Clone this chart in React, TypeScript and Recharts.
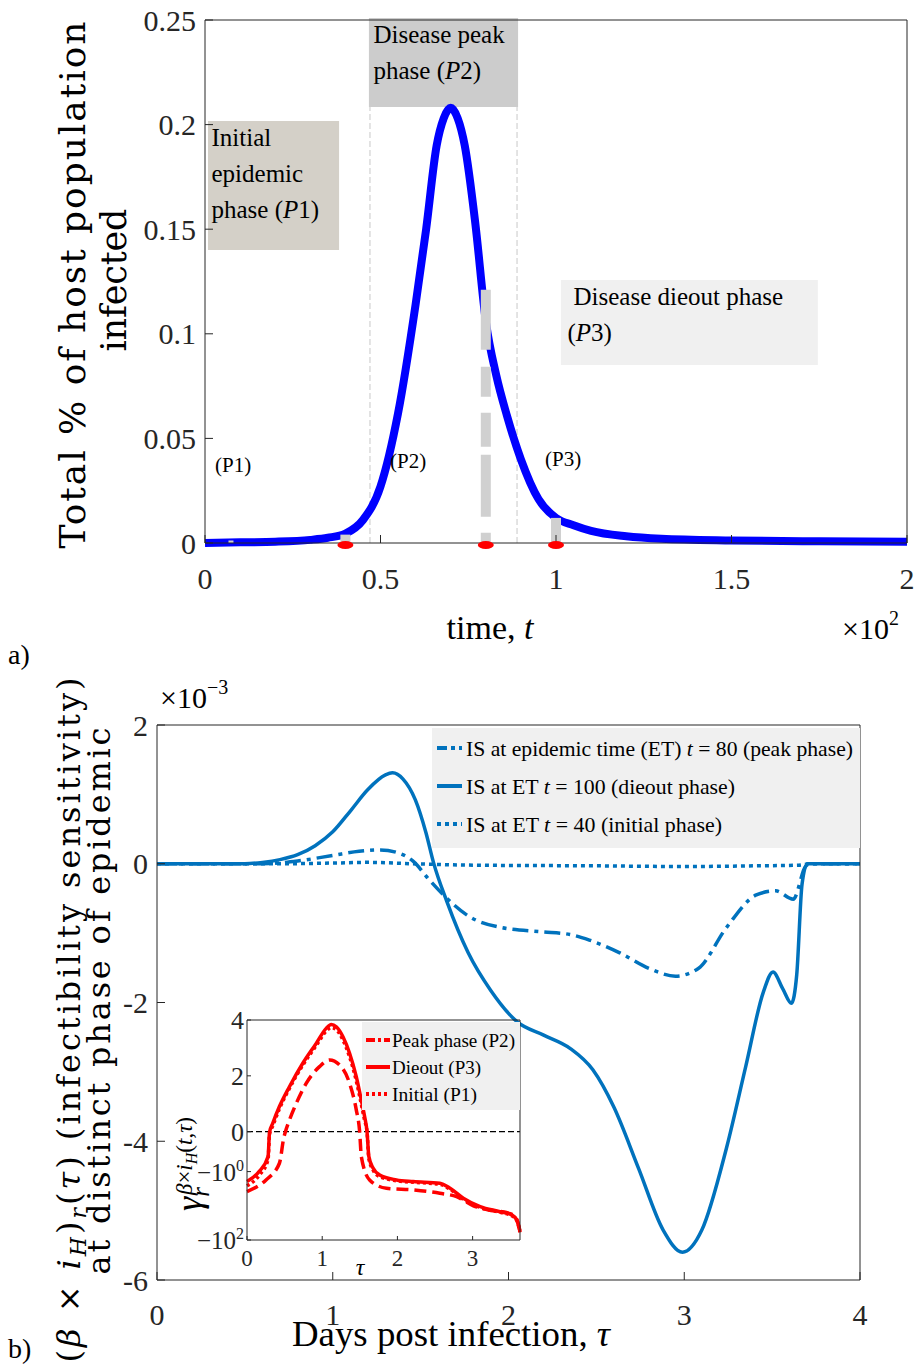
import React from 'react';
import { LineChart, Line, XAxis, YAxis, ReferenceArea, ReferenceLine, ReferenceDot } from 'recharts';

const SERIF = '"Liberation Serif", "Times New Roman", serif';
const WIDE = '"DejaVu Serif", serif';
const INK = '#262626';
const BLUE = '#0072bd';
const RED = '#ff0000';

// a) total share of host population infected vs epidemic time (x10^2)
const epiTime = [0, 0.1, 0.2, 0.3, 0.35, 0.4, 0.45, 0.5, 0.55, 0.6, 0.63, 0.66, 0.68, 0.7, 0.72, 0.74, 0.77, 0.8, 0.83, 0.86, 0.9, 0.95, 1.0, 1.05, 1.1, 1.2, 1.3, 1.5, 1.75, 2.0];
const epiInfected = [0, 0.0003, 0.0006, 0.0015, 0.0025, 0.0045, 0.011, 0.027, 0.062, 0.114, 0.15, 0.19, 0.203, 0.208, 0.203, 0.19, 0.153, 0.106, 0.08, 0.061, 0.04, 0.021, 0.012, 0.0085, 0.0058, 0.0032, 0.002, 0.0012, 0.0008, 0.0006];
const phaseTimes = [0.4, 0.8, 1.0];
const phaseBarTops = [0.004, 0.121, 0.012];
const phaseEdges = [0.47, 0.889];
const epiTicksX = [0, 0.5, 1, 1.5, 2];
const epiTicksY = [0, 0.05, 0.1, 0.15, 0.2, 0.25];

// b) infectibility sensitivity (x10^-3) vs days post infection
const tauPeak = [0, 0.6, 0.8, 1.0, 1.15, 1.27, 1.38, 1.46, 1.545, 1.63, 1.77, 1.96, 2.185, 2.35, 2.46, 2.63, 2.8, 2.95, 3.08, 3.24, 3.41, 3.52, 3.62, 3.69, 3.72, 4];
const isPeak = [0, 0, 0.04, 0.12, 0.18, 0.2, 0.15, 0.03, -0.22, -0.45, -0.75, -0.92, -0.98, -1.02, -1.1, -1.28, -1.51, -1.62, -1.51, -0.92, -0.45, -0.39, -0.51, -0.04, 0, 0];
const tauDieout = [0, 0.5, 0.6, 0.7, 0.8, 0.9, 1.0, 1.1, 1.2, 1.3, 1.34, 1.4, 1.47, 1.53, 1.573, 1.65, 1.77, 1.9, 2.05, 2.2, 2.35, 2.48, 2.6, 2.74, 2.88, 2.99, 3.1, 3.24, 3.35, 3.45, 3.505, 3.56, 3.61, 3.64, 3.67, 3.7, 4];
const isDieout = [0, 0, 0.02, 0.06, 0.13, 0.26, 0.46, 0.76, 1.07, 1.28, 1.31, 1.22, 0.92, 0.45, 0.02, -0.55, -1.28, -1.83, -2.28, -2.47, -2.66, -2.97, -3.51, -4.39, -5.28, -5.6, -5.28, -4.1, -2.92, -1.85, -1.56, -1.8, -2.01, -1.6, -0.3, 0, 0];
const tauInitial = [0, 0.7, 1.0, 1.2, 1.45, 1.8, 2.5, 3.0, 3.4, 3.65, 3.72, 4];
const isInitial = [0, 0, 0.01, 0.02, 0, -0.02, -0.03, -0.04, -0.03, -0.02, 0, 0];
const tauTicks = [0, 1, 2, 3, 4];
const isTicks = [-6, -4, -2, 0, 2];

// inset: gamma_r (symlog axis)
const inTau = [0, 0.16, 0.28, 0.3, 0.342, 0.431, 0.564, 0.742, 0.92, 1.053, 1.12, 1.187, 1.276, 1.364, 1.453, 1.52, 1.564, 1.596, 1.62, 1.676, 1.764, 1.987, 2.21, 2.564, 2.7, 2.876, 3.1, 3.364, 3.52, 3.587, 3.63];
const gDieout = [-1.96, -1.0, -0.36, -0.07, 0.3, 0.9, 1.61, 2.45, 3.16, 3.7, 3.84, 3.76, 3.4, 2.81, 1.97, 1.13, 0.54, 0, -0.36, -0.79, -1.25, -1.75, -1.96, -2.19, -3.07, -6.0, -10.6, -14.9, -18.5, -25.8, -56.8];
const gInitial = [-2.6, -1.3, -0.45, -0.08, 0.2, 0.82, 1.55, 2.38, 3.08, 3.6, 3.73, 3.66, 3.28, 2.68, 1.82, 0.98, 0.4, -0.05, -0.42, -0.9, -1.4, -1.85, -2.05, -2.35, -3.3, -6.4, -11.2, -15.5, -19.5, -27, -60];
const inTauPeak = [0, 0.253, 0.431, 0.49, 0.511, 0.565, 0.653, 0.787, 0.964, 1.098, 1.23, 1.364, 1.453, 1.498, 1.52, 1.63, 1.853, 2.21, 2.564, 2.787, 3.01, 3.2, 3.5, 3.587, 3.63];
const gPeak = [-3.85, -1.75, -0.57, -0.1, 0, 0.42, 1.0, 1.73, 2.33, 2.57, 2.39, 1.73, 0.78, 0, -0.363, -1.75, -3.07, -3.44, -4.3, -5.4, -10, -13, -17, -25, -56];
const inTicksX = [0, 1, 2, 3];

// positive side linear, negative side log10 (symlog-like)
const LIN0 = 1.43;
const DEC = 1.225;
const symlog = (v: number) => (v >= 0 ? v : -Math.max(0, LIN0 + DEC * Math.log10(-v)));
const inTicksY = [symlog(-100), symlog(-1), 0, 2, 4];

const epiData = epiTime.map((t, i) => ({ t, infected: epiInfected[i] }));
const zip = (xs: number[], ys: number[]) => xs.map((tau, i) => ({ tau, v: ys[i] }));
const zipLog = (xs: number[], ys: number[]) => xs.map((tau, i) => ({ tau, v: symlog(ys[i]) }));

const tickStyle = { fontSize: 30, fill: INK, fontFamily: SERIF };
const axisLine = { stroke: INK, strokeWidth: 1 };

const InsetYTick = (props: any) => {
  const { x, y, payload } = props;
  const v = payload.value;
  if (v >= 0) {
    return (
      <text x={x} y={y} dy={9} textAnchor="end" fontSize={26} fill={INK} fontFamily={SERIF}>
        {String(v)}
      </text>
    );
  }
  const exp = Math.round((-v - LIN0) / DEC);
  return (
    <text x={x} y={y} dy={9} textAnchor="end" fontSize={25} fill={INK} fontFamily={SERIF}>
      {'\u221210'}
      <tspan dy={-10} fontSize={16}>{exp}</tspan>
    </text>
  );
};

const it = (s: string) => <tspan fontStyle="italic">{s}</tspan>;

export default function App() {
  return (
    <div style={{ position: 'absolute', left: 0, top: 0, width: 917, height: 1365, background: '#fff' }}>
      {/* a) */}
      <div style={{ position: 'absolute', left: 0, top: 0 }}>
        <LineChart width={917} height={600} data={epiData} margin={{ top: 19, right: 9, left: 125, bottom: 12 }}>
          <XAxis dataKey="t" type="number" domain={[0, 2]} ticks={epiTicksX} tickSize={-8} tickMargin={33}
            height={45} axisLine={axisLine} tickLine={axisLine} tick={tickStyle} />
          <XAxis xAxisId="top" orientation="top" type="number" domain={[0, 2]} ticks={[0.5, 1, 1.5]} tickSize={-8}
            height={1} axisLine={axisLine} tickLine={axisLine} tick={false} />
          <YAxis type="number" domain={[0, 0.25]} ticks={epiTicksY} tickSize={-8} tickMargin={17} width={80}
            axisLine={axisLine} tickLine={axisLine} tick={tickStyle} />
          <YAxis yAxisId="right" orientation="right" type="number" domain={[0, 0.25]} ticks={[0.05, 0.1, 0.15, 0.2]}
            tickSize={-8} width={1} axisLine={axisLine} tickLine={axisLine} tick={false} />
          <ReferenceArea x1={0.0085} x2={0.382} y1={0.14} y2={0.2017} fill="#d4d0c8" fillOpacity={1} ifOverflow="visible" />
          <ReferenceArea x1={0.467} x2={0.892} y1={0.2084} y2={0.251} fill="#cccccc" fillOpacity={1} ifOverflow="visible" />
          <ReferenceArea x1={1.014} x2={1.746} y1={0.0851} y2={0.1257} fill="#f0f0f0" fillOpacity={1} ifOverflow="visible" />
          {phaseEdges.map((x) => (
            <ReferenceLine key={x} segment={[{ x, y: 0 }, { x, y: 0.2084 }]} stroke="#c8c8c8" strokeWidth={1}
              strokeDasharray="6 3" ifOverflow="visible" />
          ))}
          <Line dataKey="infected" type="monotone" stroke="#0000ff" strokeWidth={8} dot={false} isAnimationActive={false} />
          <ReferenceLine segment={[{ x: 0.074, y: 0 }, { x: 0.074, y: 0.0012 }]} stroke="#d0d0d0" strokeWidth={5} ifOverflow="visible" />
          {phaseTimes.map((x, i) => (
            <ReferenceLine key={x} segment={[{ x, y: phaseBarTops[i] }, { x, y: 0 }]} stroke="#d0d0d0" strokeWidth={10}
              strokeDasharray={i === 1 ? '60 17 30 16 34 8 62 16' : undefined} ifOverflow="visible" />
          ))}
          {phaseTimes.map((x) => (
            <ReferenceDot key={x} x={x} y={0} r={8} ifOverflow="visible"
              shape={(p: any) => <ellipse cx={p.cx} cy={p.cy + 2} rx={8} ry={4} fill={RED} />} />
          ))}
        </LineChart>
      </div>

      {/* b) */}
      <div style={{ position: 'absolute', left: 0, top: 680 }}>
        <LineChart width={917} height={680} margin={{ top: 44, right: 56, left: 97, bottom: 30 }}>
          <XAxis dataKey="tau" type="number" domain={[0, 4]} ticks={tauTicks} tickSize={-8} tickMargin={32}
            height={50} axisLine={axisLine} tickLine={axisLine} tick={tickStyle} />
          <XAxis xAxisId="top" orientation="top" type="number" domain={[0, 4]} ticks={[1, 2, 3]} tickSize={-8}
            height={1} axisLine={axisLine} tickLine={axisLine} tick={false} />
          <YAxis type="number" domain={[-6, 2]} ticks={isTicks} tickSize={-8} tickMargin={17} width={60}
            axisLine={axisLine} tickLine={axisLine} tick={tickStyle} />
          <YAxis yAxisId="right" orientation="right" type="number" domain={[-6, 2]} ticks={[-4, -2, 0]} tickSize={-8}
            width={1} axisLine={axisLine} tickLine={axisLine} tick={false} />
          <Line data={zip(tauInitial, isInitial)} dataKey="v" type="monotone" stroke={BLUE} strokeWidth={3.5}
            strokeDasharray="4 4" dot={false} isAnimationActive={false} />
          <Line data={zip(tauPeak, isPeak)} dataKey="v" type="monotone" stroke={BLUE} strokeWidth={3.5}
            strokeDasharray="16 6 4 6" dot={false} isAnimationActive={false} />
          <Line data={zip(tauDieout, isDieout)} dataKey="v" type="monotone" stroke={BLUE} strokeWidth={3.5}
            dot={false} isAnimationActive={false} />
        </LineChart>
      </div>

      {/* inset */}
      <div style={{ position: 'absolute', left: 180, top: 1000 }}>
        <LineChart width={350} height={280} margin={{ top: 19, right: 9, left: 7, bottom: 10 }}>
          <XAxis dataKey="tau" type="number" domain={[0, 3.63]} ticks={inTicksX} tickSize={-4} tickMargin={14}
            height={30} axisLine={axisLine} tickLine={axisLine} tick={{ ...tickStyle, fontSize: 23 }} />
          <XAxis xAxisId="top" orientation="top" type="number" domain={[0, 3.63]} ticks={inTicksX} tickSize={-3}
            height={1} axisLine={axisLine} tickLine={axisLine} tick={false} />
          <YAxis type="number" domain={[symlog(-100), 4]} ticks={inTicksY} tickSize={-4} tickMargin={7} width={60}
            axisLine={axisLine} tickLine={axisLine} tick={<InsetYTick />} />
          <YAxis yAxisId="right" orientation="right" type="number" domain={[symlog(-100), 4]} ticks={inTicksY}
            tickSize={-3} width={1} axisLine={axisLine} tickLine={axisLine} tick={false} />
          <ReferenceLine y={0} stroke="#000" strokeWidth={1.2} strokeDasharray="6 3" />
          <Line data={zipLog(inTau, gInitial)} dataKey="v" type="monotone" stroke={RED} strokeWidth={3.5}
            strokeDasharray="3 3" dot={false} isAnimationActive={false} />
          <Line data={zipLog(inTauPeak, gPeak)} dataKey="v" type="monotone" stroke={RED} strokeWidth={3.5}
            strokeDasharray="12 6" dot={false} isAnimationActive={false} />
          <Line data={zipLog(inTau, gDieout)} dataKey="v" type="monotone" stroke={RED} strokeWidth={3.5}
            dot={false} isAnimationActive={false} />
        </LineChart>
      </div>

      {/* labels, legends, annotations */}
      <svg width={917} height={1365} style={{ position: 'absolute', left: 0, top: 0, pointerEvents: 'none' }}
        fontFamily={SERIF} fill="#000">
        {/* a) box texts */}
        <text x={211.5} y={146} fontSize={25}>Initial</text>
        <text x={211.5} y={182} fontSize={25}>epidemic</text>
        <text x={211.5} y={218} fontSize={25}>phase ({it('P')}1)</text>
        <text x={373.5} y={43} fontSize={25}>Disease peak</text>
        <text x={373.5} y={79} fontSize={25}>phase ({it('P')}2)</text>
        <text x={573.5} y={305} fontSize={25}>Disease dieout phase</text>
        <text x={567.5} y={341} fontSize={25}>({it('P')}3)</text>
        <text x={215} y={472} fontSize={21}>(P1)</text>
        <text x={390} y={468} fontSize={21}>(P2)</text>
        <text x={545} y={466} fontSize={21}>(P3)</text>

        {/* a) axis labels */}
        <text transform="translate(85,285) rotate(-90)" textAnchor="middle" fontSize={36} fontFamily={WIDE}
          textLength={527} lengthAdjust="spacing">Total % of host population</text>
        <text transform="translate(126,280) rotate(-90)" textAnchor="middle" fontSize={35} fontFamily={WIDE}
          textLength={143} lengthAdjust="spacing">infected</text>
        <text x={490} y={639} textAnchor="middle" fontSize={34}>time, {it('t')}</text>
        <text x={842} y={639} fontSize={30}>×10<tspan dy={-14} fontSize={20}>2</tspan></text>
        <text x={8} y={664} fontSize={28}>a)</text>

        {/* b) axis labels */}
        <text x={160} y={708} fontSize={30}>×10<tspan dy={-14} fontSize={20}>−3</tspan></text>
        <text transform="translate(80,1020) rotate(-90)" textAnchor="middle" fontSize={32} fontFamily={WIDE}
          textLength={685} lengthAdjust="spacing">
          ({it('β')} × {it('i')}<tspan fontStyle="italic" fontSize={22} dy={6}>H</tspan><tspan dy={-6}>)</tspan>
          <tspan fontStyle="italic" fontSize={22} dy={6}>r</tspan><tspan dy={-6}>(</tspan>{it('τ')}) (infectibility sensitivity)
        </text>
        <text transform="translate(110,1001) rotate(-90)" textAnchor="middle" fontSize={32} fontFamily={WIDE}
          textLength={547} lengthAdjust="spacing">at distinct phase of epidemic</text>
        <text x={451} y={1346} textAnchor="middle" fontSize={36} textLength={318} lengthAdjust="spacingAndGlyphs">
          Days post infection, {it('τ')}
        </text>
        <text x={8} y={1358} fontSize={28}>b)</text>

        {/* b) legend */}
        <rect x={432} y={728} width={428} height={120} fill="#f0f0f0" />
        <line x1={437} x2={462} y1={748} y2={748} stroke={BLUE} strokeWidth={4} strokeDasharray="10 4 4 4" />
        <line x1={437} x2={462} y1={786} y2={786} stroke={BLUE} strokeWidth={4} />
        <line x1={437} x2={462} y1={824} y2={824} stroke={BLUE} strokeWidth={4} strokeDasharray="4 4" />
        <text x={466} y={756} fontSize={22} textLength={387} lengthAdjust="spacingAndGlyphs">
          IS at epidemic time (ET) {it('t')} = 80 (peak phase)
        </text>
        <text x={466} y={794} fontSize={22} textLength={269} lengthAdjust="spacingAndGlyphs">
          IS at ET {it('t')} = 100 (dieout phase)
        </text>
        <text x={466} y={832} fontSize={22} textLength={256} lengthAdjust="spacingAndGlyphs">
          IS at ET {it('t')} = 40 (initial phase)
        </text>

        {/* inset legend + labels */}
        <rect x={362} y={1022} width={158} height={88} fill="#f0f0f0" />
        <line x1={366} x2={390} y1={1040} y2={1040} stroke={RED} strokeWidth={4} strokeDasharray="9 3 3 3" />
        <line x1={366} x2={390} y1={1067} y2={1067} stroke={RED} strokeWidth={4} />
        <line x1={366} x2={390} y1={1094} y2={1094} stroke={RED} strokeWidth={4} strokeDasharray="3 3" />
        <text x={392} y={1047} fontSize={19} textLength={123} lengthAdjust="spacingAndGlyphs">Peak phase (P2)</text>
        <text x={392} y={1074} fontSize={19} textLength={89} lengthAdjust="spacingAndGlyphs">Dieout (P3)</text>
        <text x={392} y={1101} fontSize={19} textLength={85} lengthAdjust="spacingAndGlyphs">Initial (P1)</text>
        <text x={360} y={1275} textAnchor="middle" fontSize={24} fontStyle="italic">τ</text>
        <text transform="translate(201,1211) rotate(-90)" fontSize={36}>
          <tspan fontStyle="italic">γ</tspan>
          <tspan fontStyle="italic" fontSize={25} dy={8}>r</tspan>
          <tspan fontStyle="italic" fontSize={23} dx={-8} dy={-17}>β</tspan>
          <tspan fontSize={23}>×</tspan>
          <tspan fontStyle="italic" fontSize={23}>i</tspan>
          <tspan fontStyle="italic" fontSize={16} dy={5}>H</tspan>
          <tspan fontSize={23} dy={-5}>(</tspan>
          <tspan fontStyle="italic" fontSize={23}>t</tspan>
          <tspan fontSize={23}>,</tspan>
          <tspan fontStyle="italic" fontSize={23}>τ</tspan>
          <tspan fontSize={23}>)</tspan>
        </text>
      </svg>
    </div>
  );
}
